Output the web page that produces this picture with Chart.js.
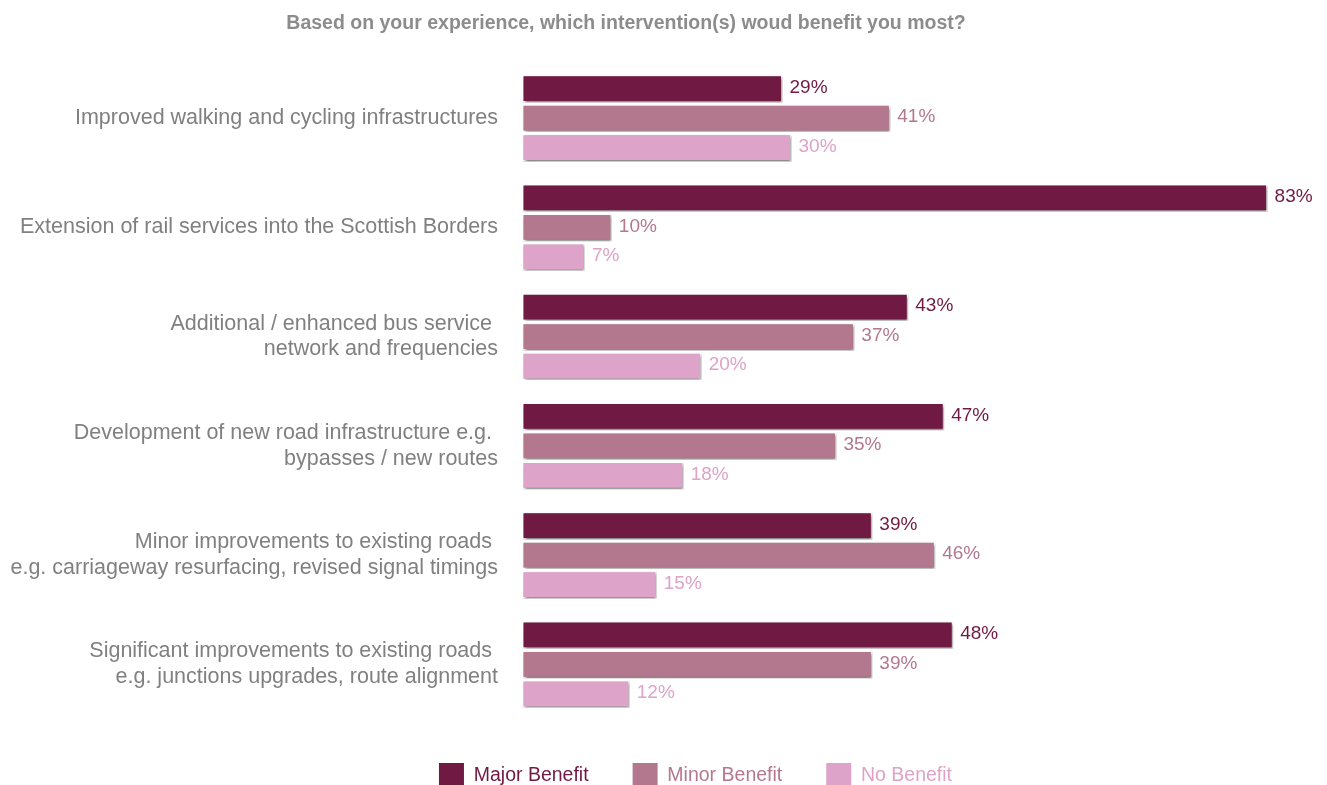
<!DOCTYPE html>
<html>
<head>
<meta charset="utf-8">
<script src="https://cdn.jsdelivr.net/npm/chart.js@4"></script>
<style>
  html, body { margin: 0; padding: 0; background: #ffffff; }
  #wrap { width: 1327px; height: 785px; }
</style>
</head>
<body>
<div id="wrap"><canvas id="chart"></canvas></div>
<script>
// Survey answers, percent of respondents
const categories = [
    ['Improved walking and cycling infrastructures'],
    ['Extension of rail services into the Scottish Borders'],
    ['Additional / enhanced bus service ', 'network and frequencies'],
    ['Development of new road infrastructure e.g. ', 'bypasses / new routes'],
    ['Minor improvements to existing roads ', 'e.g. carriageway resurfacing, revised signal timings'],
    ['Significant improvements to existing roads ', 'e.g. junctions upgrades, route alignment']
];
const majorBenefit = [29, 83, 43, 47, 39, 48];
const minorBenefit = [41, 10, 37, 35, 46, 39];
const noBenefit = [30, 7, 20, 18, 15, 12];

const seriesNames = ['Major Benefit', 'Minor Benefit', 'No Benefit'];
const seriesColors = ['#701a43', '#b3778e', '#dda3c8'];
const textColors = ['#701a43', '#b3778e', '#dda3c8'];

const FONT = '"Liberation Sans", Arial, sans-serif';

// title sits a bit left of centre, legend a bit right, as in the original
const nudgeBlocks = {
    id: 'nudgeBlocks',
    afterLayout(chart) {
        if (chart.titleBlock) chart.titleBlock.right -= 65;
        if (chart.legend) chart.legend.left += 74;
    }
};

// soft drop shadow under each bar
const barShadow = {
    id: 'barShadow',
    beforeDatasetDraw(chart) {
        const ctx = chart.ctx;
        ctx.save();
        ctx.shadowColor = 'rgba(0,0,0,0.55)';
        ctx.shadowBlur = 3;
        ctx.shadowOffsetX = 1;
        ctx.shadowOffsetY = 2;
    },
    afterDatasetDraw(chart) {
        chart.ctx.restore();
    }
};

// percent label at the end of each bar
const valueLabels = {
    id: 'valueLabels',
    afterDatasetsDraw(chart) {
        const ctx = chart.ctx;
        ctx.save();
        ctx.font = '19px ' + FONT;
        ctx.textAlign = 'left';
        ctx.textBaseline = 'middle';
        chart.data.datasets.forEach((ds, i) => {
            const meta = chart.getDatasetMeta(i);
            ctx.fillStyle = textColors[i];
            meta.data.forEach((bar, j) => {
                ctx.fillText(ds.data[j] + '%', bar.x + 7, bar.y - 1);
            });
        });
        ctx.restore();
    }
};

new Chart(document.getElementById('chart'), {
    type: 'bar',
    data: {
        labels: categories,
        datasets: [majorBenefit, minorBenefit, noBenefit].map((vals, i) => ({
            label: seriesNames[i],
            data: vals,
            backgroundColor: seriesColors[i],
            borderColor: '#ffffff',
            borderWidth: 1.5,
            borderSkipped: false,
            categoryPercentage: 0.81,
            barPercentage: 0.94
        }))
    },
    options: {
        indexAxis: 'y',
        responsive: true,
        maintainAspectRatio: false,
        animation: false,
        layout: { padding: { top: 0, right: 10, bottom: -13, left: 0 } },
        plugins: {
            title: {
                display: true,
                text: 'Based on your experience, which intervention(s) woud benefit you most?',
                color: '#8c8c8c',
                font: { family: FONT, size: 19.5, weight: 'bold' },
                padding: { top: 12, bottom: 28 }
            },
            legend: {
                position: 'bottom',
                labels: {
                    boxWidth: 25,
                    boxHeight: 25,
                    padding: 44,
                    font: { family: FONT, size: 19.5 },
                    generateLabels(chart) {
                        return chart.data.datasets.map((ds, i) => ({
                            text: ds.label,
                            fillStyle: seriesColors[i],
                            strokeStyle: seriesColors[i],
                            lineWidth: 0,
                            fontColor: textColors[i],
                            datasetIndex: i,
                            hidden: false
                        }));
                    }
                }
            },
            tooltip: { enabled: false }
        },
        scales: {
            x: {
                min: 0,
                max: 88.5,
                display: false
            },
            y: {
                grid: { display: false },
                border: { display: false },
                ticks: {
                    color: '#808080',
                    padding: 16,
                    font: { family: FONT, size: 21.5 }
                },
                afterFit(scale) { scale.width = 522; }
            }
        }
    },
    plugins: [nudgeBlocks, barShadow, valueLabels]
});
</script>
</body>
</html>
